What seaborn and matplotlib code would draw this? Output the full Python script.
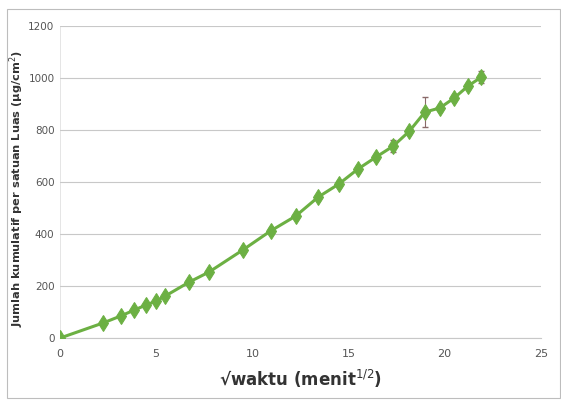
import matplotlib
matplotlib.use("Agg")
import matplotlib.pyplot as plt
import numpy as np
import pandas as pd
import seaborn as sns
from matplotlib.patches import Rectangle

sns.set_style("white")
plt.rcParams['font.family'] = ['DejaVu Sans']

# akar waktu (menit^1/2) dan jumlah kumulatif (ug/cm2)
akar_waktu = [0, 2.24, 3.16, 3.87, 4.47, 5.0, 5.48, 6.71, 7.75, 9.49, 10.95,
              12.25, 13.42, 14.49, 15.49, 16.43, 17.32, 18.17, 18.97, 19.75,
              20.49, 21.21, 21.91]
kumulatif = [0, 58, 85, 108, 127, 142, 162, 215, 254, 338, 412,
             469, 542, 592, 650, 696, 738, 796, 869, 885,
             923, 969, 1004]
sd = [3, 8, 8, 8, 8, 8, 8, 8, 8, 10, 12,
      10, 10, 12, 10, 10, 22, 10, 58, 12,
      12, 12, 22]

dados = pd.DataFrame({"x": akar_waktu, "y": kumulatif, "sd": sd})

fig = plt.figure(figsize=(5.61, 4.01), dpi=100)
ax = fig.add_axes([0.107, 0.157, 0.857, 0.778])

# bingkai grafik
fig.patches.append(Rectangle((0.013, 0.008), 0.985, 0.97, transform=fig.transFigure,
                             fill=False, edgecolor="#bdbdbd", linewidth=0.8))

ax.errorbar(dados["x"], dados["y"], yerr=dados["sd"], fmt="none",
            ecolor="#8a6a6a", elinewidth=0.8, capsize=2, zorder=2)
sns.lineplot(data=dados, x="x", y="y", ax=ax, color="#6cb043", linewidth=2.2,
             marker="d", markersize=8, markeredgecolor="#6cb043", zorder=3)

ax.set_xlim(0, 25)
ax.set_ylim(0, 1200)
ax.set_xticks([0, 5, 10, 15, 20, 25])
ax.set_yticks(range(0, 1201, 200))
ax.grid(axis="y", color="#c8c8c8", linewidth=0.8)
for s in ["top", "right", "left"]:
    ax.spines[s].set_visible(False)
ax.spines["bottom"].set_color("#c8c8c8")
ax.axvline(0, color="#e0e0e0", linewidth=0.6, zorder=0)
ax.tick_params(axis="y", length=0, labelsize=7.5, colors="#555555", pad=4)
ax.tick_params(axis="x", length=0, labelsize=8, colors="#555555", pad=8)

ax.set_xlabel("√waktu (menit$^{1/2}$)", fontsize=12, fontweight="bold",
              color="#333333", labelpad=6)
ax.set_ylabel("Jumlah kumulatif per satuan Luas (µg/cm$^{2}$)", fontsize=8.2,
              fontweight="bold", color="#333333")
ax.yaxis.set_label_coords(-0.07, 0.48)

fig.savefig("out.png", dpi=100)
